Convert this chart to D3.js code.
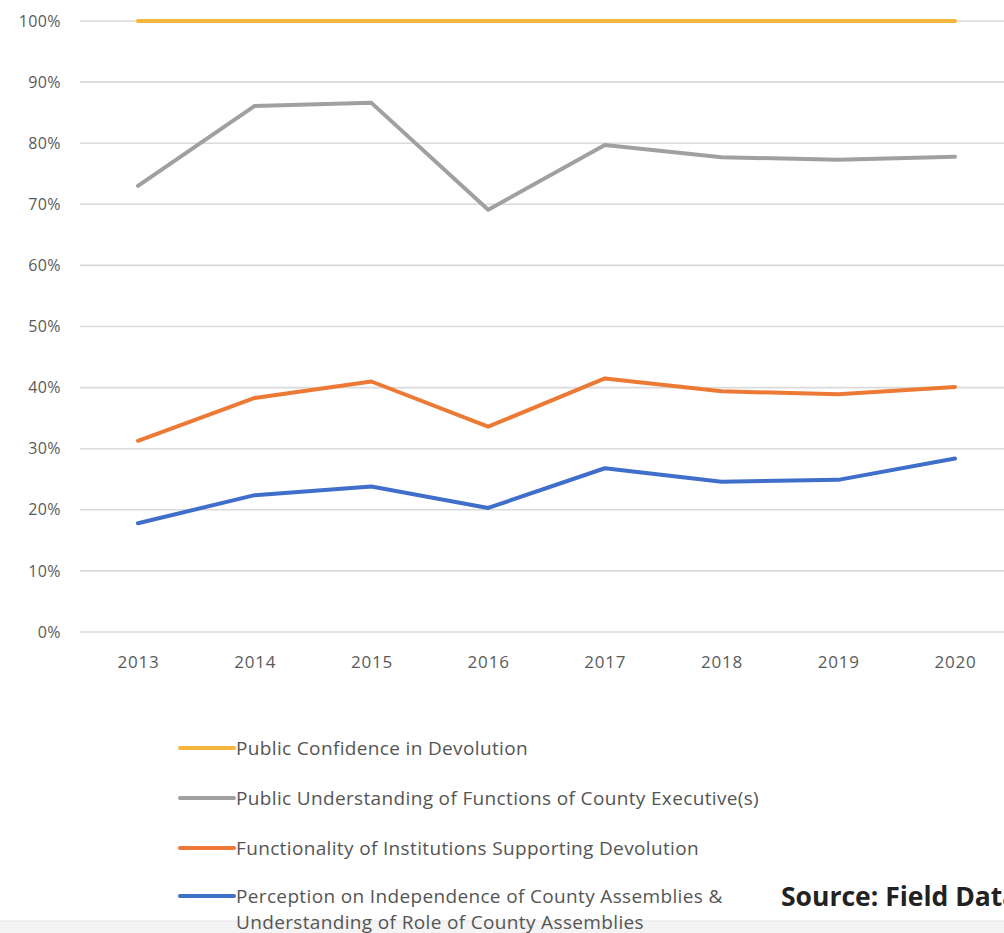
<!DOCTYPE html>
<html>
<head>
<meta charset="utf-8">
<script src="https://cdn.jsdelivr.net/npm/d3@7"></script>
<style>
  html, body { margin: 0; padding: 0; background: #fff; overflow: hidden; }
  svg { display: block; }
</style>
</head>
<body>
<script>
// Survey years on the x axis
const years = ["2013", "2014", "2015", "2016", "2017", "2018", "2019", "2020"];

// Percentages per indicator
const publicConfidence   = [100, 100, 100, 100, 100, 100, 100, 100];
const countyExecutive    = [73.0, 86.1, 86.6, 69.1, 79.7, 77.7, 77.3, 77.8];
const institutions       = [31.3, 38.3, 41.0, 33.6, 41.5, 39.4, 38.9, 40.1];
const countyAssemblies   = [17.8, 22.4, 23.8, 20.3, 26.8, 24.6, 24.9, 28.4];

// Y-axis ticks
const yTicks = [0, 10, 20, 30, 40, 50, 60, 70, 80, 90, 100];

const seriesNames = [
  ["Public Confidence in Devolution"],
  ["Public Understanding of Functions of County Executive(s)"],
  ["Functionality of Institutions Supporting Devolution"],
  ["Perception on Independence of County Assemblies &", "Understanding of Role of County Assemblies"]
];
const seriesValues = [publicConfidence, countyExecutive, institutions, countyAssemblies];
const seriesColors = ["#f3b83c", "#a0a0a0", "#ec7a35", "#3f6ecb"];

const W = 1004, H = 933;
const svg = d3.select("body").append("svg").attr("width", W).attr("height", H);

const x = d3.scalePoint().domain(years).range([138, 955]);
const y = d3.scaleLinear().domain([0, 100]).range([632, 21]);

// Bottom page band
svg.append("rect").attr("x", 0).attr("y", 921).attr("width", W).attr("height", 12).attr("fill", "#f4f4f4");
svg.append("line").attr("x1", 0).attr("x2", W).attr("y1", 921).attr("y2", 921)
  .attr("stroke", "#e4e4e4").attr("stroke-width", 1);

// Horizontal gridlines
svg.append("g").selectAll("line").data(yTicks).join("line")
  .attr("x1", 80).attr("x2", W)
  .attr("y1", d => y(d)).attr("y2", d => y(d))
  .attr("stroke", "#dadada").attr("stroke-width", 1.6);

const labelFont = "'Open Sans', sans-serif";

// Y axis labels
const yAxis = d3.axisLeft(y).tickValues(yTicks).tickFormat(d => d + "%").tickSize(0).tickPadding(0);
const gy = svg.append("g").attr("transform", "translate(61,0)").call(yAxis);
gy.select(".domain").remove();
gy.selectAll("text")
  .attr("fill", "#5a5a5a")
  .style("font-family", labelFont)
  .style("font-size", "16px")
  .style("letter-spacing", "0.4px");

// X axis labels
const xAxis = d3.axisBottom(x).tickSize(0).tickPadding(0);
const gx = svg.append("g").attr("transform", "translate(0,656)").call(xAxis);
gx.select(".domain").remove();
gx.selectAll("text")
  .attr("fill", "#5a5a5a")
  .style("font-family", labelFont)
  .style("font-size", "17px")
  .style("letter-spacing", "0.8px");

// Series lines
const line = d3.line().x((d, i) => x(years[i])).y(d => y(d));
svg.append("g").selectAll("path").data(seriesValues).join("path")
  .attr("d", d => line(d))
  .attr("fill", "none")
  .attr("stroke", (d, i) => seriesColors[i])
  .attr("stroke-width", 4)
  .attr("stroke-linejoin", "round")
  .attr("stroke-linecap", "round");

// Legend
const legendRows = [748, 798, 848, 896];
const lg = svg.append("g");
seriesNames.forEach((lines, i) => {
  const ry = legendRows[i];
  lg.append("line")
    .attr("x1", 180).attr("x2", 234)
    .attr("y1", ry).attr("y2", ry)
    .attr("stroke", seriesColors[i]).attr("stroke-width", 4)
    .attr("stroke-linecap", "round");
  lines.forEach((t, j) => {
    lg.append("text")
      .attr("x", 236).attr("y", ry + 7 + j * 26)
      .attr("fill", "#555")
      .style("font-family", labelFont)
      .style("font-size", "19px")
      .style("letter-spacing", "0.35px")
      .text(t);
  });
});

// Source note
svg.append("text")
  .attr("x", 781).attr("y", 906)
  .attr("fill", "#222")
  .style("font-family", labelFont)
  .style("font-weight", "700")
  .style("font-size", "26.5px")
  .text("Source: Field Data");
</script>
</body>
</html>
